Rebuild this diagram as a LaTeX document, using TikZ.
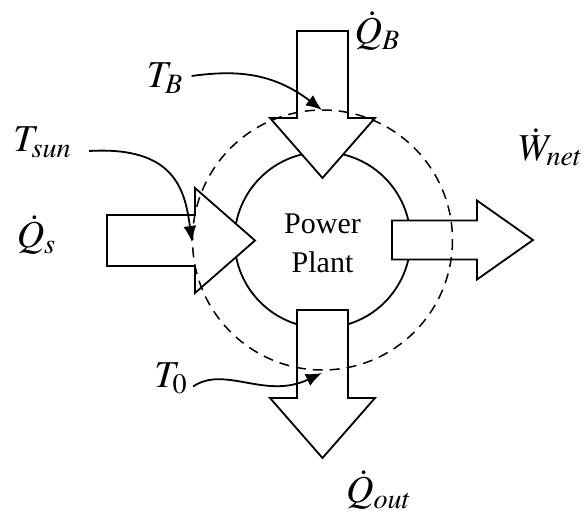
\documentclass[tikz,border=0pt]{standalone}
\usepackage{mathptmx}
\usepackage{fontspec}
\setmainfont{Liberation Serif}
\usetikzlibrary{arrows.meta}

\begin{document}
\begin{tikzpicture}[
    x=0.5pt,
    y=-0.5pt,
    >={Latex[length=8pt,width=6.5pt]},
    blockarrow/.style={draw, fill=white, line width=0.9pt, line join=miter},
    lbl/.style={font=\fontsize{19}{23}\selectfont, inner sep=0pt},
    pointer/.style={->, line width=0.9pt}
]
\useasboundingbox (0,0) rectangle (585,515);
% Plant
\draw[line width=0.9pt] (322.5,240) circle[radius=88];
\node[align=center, inner sep=0pt, font=\fontsize{15}{19.5}\selectfont] (plant) at (322.5,243) {Power\\Plant};
% Block arrows: heat in, heat from boiler, work out, heat out
\draw[blockarrow] (107,215) -- (195,215) -- (195,188) -- (255,240.5) -- (195,293) -- (195,266) -- (107,266) -- cycle;
\draw[blockarrow] (297,31) -- (348,31) -- (348,118) -- (375,118) -- (322.5,178) -- (270,118) -- (297,118) -- cycle;
\draw[blockarrow] (392,220.5) -- (477,220.5) -- (477,200.5) -- (533,240) -- (477,279.5) -- (477,259.5) -- (392,259.5) -- cycle;
\draw[blockarrow] (297,310) -- (348,310) -- (348,398) -- (375,398) -- (322.5,458) -- (270,398) -- (297,398) -- cycle;
% Control volume
\draw[dash pattern=on 5pt off 3.5pt, line width=0.75pt] (322.5,240) circle[radius=130];
% Labels
\node[lbl] (Qs) at (36.5,235) {$\dot{Q}_s$};
\node[lbl] (QB) at (377.5,31) {$\dot{Q}_B$};
\node[lbl] (Wnet) at (551,147.5) {$\dot{W}_{net}$};
\node[lbl] (Qout) at (379,490) {$\dot{Q}_{out}$};
\node[lbl] (TB) at (165,78) {$T_B$};
\node[lbl] (Tsun) at (42.5,142) {$T_{sun}$};
\node[lbl] (T0) at (171,378.5) {$T_0$};
% Temperature pointers
\coordinate (TBtip) at (322,110);
\coordinate (Tsuntip) at (192,242);
\coordinate (T0tip) at (322,373);
\draw[pointer] ([xshift=4pt,yshift=1pt]TB.east) .. controls (235,70) and (272,72) .. (TBtip);
\draw[pointer] ([xshift=8.5pt,yshift=-4.5pt]Tsun.east) .. controls (175,146) and (185,190) .. (Tsuntip);
\draw[pointer] ([xshift=2.5pt,yshift=-4pt]T0.east) .. controls (225,365) and (265,400) .. (T0tip);
\end{tikzpicture}
\end{document}
